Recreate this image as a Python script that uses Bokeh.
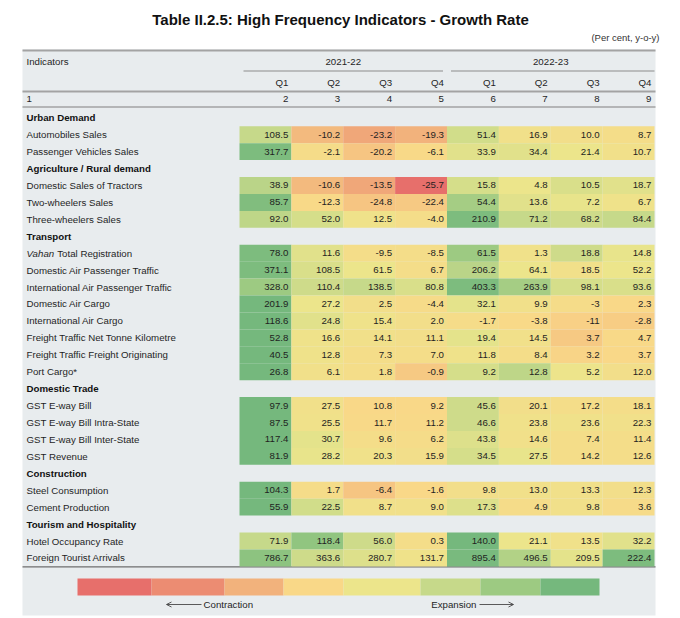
from bokeh.plotting import figure
from bokeh.models import Range1d, ColumnDataSource, Arrow, OpenHead
from bokeh.core.properties import value
from bokeh.embed import file_html
from bokeh.resources import INLINE

TITLE = "Table II.2.5: High Frequency Indicators - Growth Rate"
UNIT = "(Per cent, y-o-y)"
years = ["2021-22", "2022-23"]
quarters = ["Q1", "Q2", "Q3", "Q4", "Q1", "Q2", "Q3", "Q4"]
col_numbers = ["1", "2", "3", "4", "5", "6", "7", "8", "9"]

sections = ["Urban Demand", "Agriculture / Rural demand", "Transport",
            "Domestic Trade", "Construction", "Tourism and Hospitality"]

urban_rows = ["Automobiles Sales", "Passenger Vehicles Sales"]
urban_vals = [["108.5", "-10.2", "-23.2", "-19.3", "51.4", "16.9", "10.0", "8.7"],
              ["317.7", "-2.1", "-20.2", "-6.1", "33.9", "34.4", "21.4", "10.7"]]
urban_lvl = [[5.0, 2.2, 1.7, 2.0, 4.7, 3.6, 3.5, 3.4],
             [6.8, 3.3, 2.5, 3.1, 4.3, 4.3, 4.0, 3.6]]

agri_rows = ["Domestic Sales of Tractors", "Two-wheelers Sales", "Three-wheelers Sales"]
agri_vals = [["38.9", "-10.6", "-13.5", "-25.7", "15.8", "4.8", "10.5", "18.7"],
             ["85.7", "-12.3", "-24.8", "-22.4", "54.4", "13.6", "7.2", "6.7"],
             ["92.0", "52.0", "12.5", "-4.0", "210.9", "71.2", "68.2", "84.4"]]
agri_lvl = [[5.3, 2.2, 1.7, 0.0, 4.6, 4.0, 4.5, 4.3],
            [6.7, 3.1, 2.5, 2.6, 5.8, 4.3, 4.1, 3.8],
            [5.2, 4.6, 3.8, 3.4, 6.8, 5.0, 4.8, 5.0]]

transport_rows = ["Vahan Total Registration", "Domestic Air Passenger Traffic",
                  "International Air Passenger Traffic", "Domestic Air Cargo",
                  "International Air Cargo", "Freight Traffic Net Tonne Kilometre",
                  "Freight Traffic Freight Originating", "Port Cargo*"]
transport_vals = [["78.0", "11.6", "-9.5", "-8.5", "61.5", "1.3", "18.8", "14.8"],
                  ["371.1", "108.5", "61.5", "6.7", "206.2", "64.1", "18.5", "52.2"],
                  ["328.0", "110.4", "138.5", "80.8", "403.3", "263.9", "98.1", "93.6"],
                  ["201.9", "27.2", "2.5", "-4.4", "32.1", "9.9", "-3", "2.3"],
                  ["118.6", "24.8", "15.4", "2.0", "-1.7", "-3.8", "-11", "-2.8"],
                  ["52.8", "16.6", "14.1", "11.1", "19.4", "14.5", "3.7", "4.7"],
                  ["40.5", "12.8", "7.3", "7.0", "11.8", "8.4", "3.2", "3.7"],
                  ["26.8", "6.1", "1.8", "-0.9", "9.2", "12.8", "5.2", "12.0"]]
transport_lvl = [[6.8, 4.3, 3.4, 3.4, 6.0, 3.7, 4.8, 4.1],
                 [6.8, 4.5, 4.0, 3.4, 5.3, 4.0, 3.6, 4.0],
                 [6.0, 4.8, 5.0, 4.5, 6.8, 5.8, 4.6, 4.5],
                 [7.0, 4.0, 3.5, 3.2, 4.2, 3.6, 3.3, 3.0],
                 [7.0, 4.3, 3.8, 3.5, 3.3, 3.1, 2.8, 2.7],
                 [7.0, 3.8, 3.6, 3.5, 4.2, 3.6, 2.6, 3.1],
                 [7.0, 3.8, 3.4, 3.4, 3.8, 3.4, 2.9, 3.0],
                 [7.0, 3.6, 3.4, 2.6, 4.6, 5.2, 3.9, 3.5]]

trade_rows = ["GST E-way Bill", "GST E-way Bill Intra-State",
              "GST E-way Bill Inter-State", "GST Revenue"]
trade_vals = [["97.9", "27.5", "10.8", "9.2", "45.6", "20.1", "17.2", "18.1"],
              ["87.5", "25.5", "11.7", "11.2", "46.6", "23.8", "23.6", "22.3"],
              ["117.4", "30.7", "9.6", "6.2", "43.8", "14.6", "7.4", "11.4"],
              ["81.9", "28.2", "20.3", "15.9", "34.5", "27.5", "14.2", "12.6"]]
trade_lvl = [[7.0, 3.6, 3.0, 3.0, 4.8, 3.5, 3.4, 3.4],
             [7.0, 3.7, 3.1, 3.1, 4.8, 3.7, 3.7, 3.6],
             [7.0, 4.2, 3.4, 3.3, 4.4, 3.6, 3.4, 3.4],
             [7.0, 4.1, 3.7, 3.5, 4.6, 4.1, 3.4, 3.4]]

constr_rows = ["Steel Consumption", "Cement Production"]
constr_vals = [["104.3", "1.7", "-6.4", "-1.6", "9.8", "13.0", "13.3", "12.3"],
               ["55.9", "22.5", "8.7", "9.0", "17.3", "4.9", "9.8", "3.6"]]
constr_lvl = [[7.0, 3.3, 2.5, 3.0, 3.5, 3.6, 3.6, 3.5],
              [7.0, 4.7, 3.6, 3.6, 4.4, 3.3, 3.6, 3.2]]

tourism_rows = ["Hotel Occupancy Rate", "Foreign Tourist Arrivals"]
tourism_vals = [["71.9", "118.4", "56.0", "0.3", "140.0", "21.1", "13.5", "32.2"],
                ["786.7", "363.6", "280.7", "131.7", "895.4", "496.5", "209.5", "222.4"]]
tourism_lvl = [[5.0, 6.3, 4.8, 3.4, 7.0, 4.0, 3.7, 4.3],
               [6.4, 4.8, 4.4, 3.8, 6.9, 5.5, 4.2, 6.8]]

palette = ["#e76f6b", "#ec8c72", "#f2b27c", "#f9d888",
           "#ece58b", "#c6d98a", "#9dca82", "#75b87d"]
legend_labels = ["Contraction", "Expansion"]

groups = [
    (sections[0], urban_rows, urban_vals, urban_lvl),
    (sections[1], agri_rows, agri_vals, agri_lvl),
    (sections[2], transport_rows, transport_vals, transport_lvl),
    (sections[3], trade_rows, trade_vals, trade_lvl),
    (sections[4], constr_rows, constr_vals, constr_lvl),
    (sections[5], tourism_rows, tourism_vals, tourism_lvl),
]

# ---------- layout constants (pixels) ----------
W, H = 680, 618
FONT = value("Liberation Sans")
TXT = "#1f1f1f"
BG = "#e8ecee"
LEFT = 22
RIGHT = 655
LABEL_X = 26
CELL0 = 239
CELLW = (RIGHT - 1 - CELL0) / 8.0
ROW0 = 108.8
ROWH = 16.93
FS = "9.7px"


def hex2rgb(h):
    return tuple(int(h[i:i + 2], 16) for i in (1, 3, 5))


def level_color(lv):
    lv = max(0.0, min(7.0, lv))
    i = min(int(lv), 6)
    f = lv - i
    a, b = hex2rgb(palette[i]), hex2rgb(palette[i + 1])
    c = [round(a[k] + (b[k] - a[k]) * f) for k in range(3)]
    return "#%02x%02x%02x" % tuple(c)


p = figure(width=W, height=H, x_range=Range1d(0, W), y_range=Range1d(H, 0),
           output_backend="svg", toolbar_location=None, min_border=0,
           background_fill_color="white", border_fill_color="white")
p.axis.visible = False
p.grid.visible = False
p.outline_line_color = None

n_rows = sum(1 + len(g[1]) for g in groups)
table_bottom = ROW0 + n_rows * ROWH

# table background
p.quad(left=[LEFT], right=[RIGHT], top=[49], bottom=[615], fill_color=BG, line_color=None)

# title & unit
p.text(x=[340], y=[19], text=[TITLE], text_font=FONT, text_font_size="15px",
       text_font_style="bold", text_align="center", text_baseline="middle", text_color="#111111")
p.text(x=[RIGHT + 4], y=[37], text=[UNIT], text_font=FONT, text_font_size="9.5px",
       text_align="right", text_baseline="middle", text_color="#333333")

# header rows
p.text(x=[LABEL_X], y=[61], text=["Indicators"], text_font=FONT, text_font_size=FS,
       text_align="left", text_baseline="middle", text_color=TXT)
year_x = [CELL0 + CELLW * 2, CELL0 + CELLW * 6]
p.text(x=year_x, y=[61, 61], text=years, text_font=FONT, text_font_size=FS,
       text_align="center", text_baseline="middle", text_color=TXT)
p.segment(x0=[CELL0 + 4, CELL0 + CELLW * 4 + 4], x1=[CELL0 + CELLW * 4 - 4, RIGHT - 1],
          y0=[70.5, 70.5], y1=[70.5, 70.5], line_color="#8c8c8c", line_width=1.2)
q_x = [CELL0 + CELLW * (i + 1) - 3 for i in range(8)]
p.text(x=q_x, y=[82] * 8, text=quarters, text_font=FONT, text_font_size=FS,
       text_align="right", text_baseline="middle", text_color=TXT)
p.text(x=[LABEL_X], y=[98.5], text=[col_numbers[0]], text_font=FONT, text_font_size=FS,
       text_align="left", text_baseline="middle", text_color=TXT)
p.text(x=q_x, y=[98.5] * 8, text=col_numbers[1:], text_font=FONT, text_font_size=FS,
       text_align="right", text_baseline="middle", text_color=TXT)

# rules
p.segment(x0=[LEFT, LEFT, LEFT, LEFT], x1=[RIGHT, RIGHT, RIGHT, RIGHT],
          y0=[50, 91, 106.5, table_bottom + 0.5], y1=[50, 91, 106.5, table_bottom + 0.5],
          line_color=["#a3a3a3", "#a3a3a3", "#a3a3a3", "#6e6e6e"],
          line_width=[2.2, 2.2, 1.6, 1.4])

# body
cl, cr, ct, cb, cc = [], [], [], [], []
vx, vy, vt = [], [], []
lx, ly, lt = [], [], []
hx, hy, ht = [], [], []
k = 0
for title, rows, vals, lvls in groups:
    hx.append(LABEL_X); hy.append(ROW0 + ROWH * (k + 0.5)); ht.append(title)
    k += 1
    for name, rv, rl in zip(rows, vals, lvls):
        yc = ROW0 + ROWH * (k + 0.5)
        if not name.startswith("Vahan "):
            lx.append(LABEL_X); ly.append(yc); lt.append(name)
        for j in range(8):
            cl.append(CELL0 + CELLW * j); cr.append(CELL0 + CELLW * (j + 1))
            ct.append(ROW0 + ROWH * k); cb.append(ROW0 + ROWH * (k + 1))
            cc.append(level_color(rl[j]))
            vx.append(CELL0 + CELLW * (j + 1) - 3); vy.append(yc); vt.append(rv[j])
        k += 1

p.quad(left=cl, right=cr, top=ct, bottom=cb, fill_color=cc, line_color=None)
p.text(x=vx, y=vy, text=vt, text_font=FONT, text_font_size=FS, text_align="right",
       text_baseline="middle", text_color=TXT)
p.text(x=lx, y=ly, text=lt, text_font=FONT, text_font_size=FS, text_align="left",
       text_baseline="middle", text_color=TXT)
p.text(x=hx, y=hy, text=ht, text_font=FONT, text_font_size=FS, text_font_style="bold",
       text_align="left", text_baseline="middle", text_color="#111111")

# Vahan row (italic word)
vahan_y = ROW0 + ROWH * (sections.index("Transport") + len(urban_rows) + len(agri_rows) + 1.5)
vahan_name = transport_rows[0].split(" ", 1)
p.text(x=[LABEL_X], y=[vahan_y], text=[vahan_name[0]], text_font=FONT, text_font_size=FS,
       text_font_style="italic", text_align="left", text_baseline="middle", text_color=TXT)
p.text(x=[LABEL_X + 2.891 * 9.7 + 2.7], y=[vahan_y], text=[vahan_name[1]], text_font=FONT,
       text_font_size=FS, text_align="left", text_baseline="middle", text_color=TXT)

# colour legend
edges = [77, 151, 224, 283, 343, 420, 480, 540, 599]
p.quad(left=edges[:-1], right=edges[1:], top=[578] * 8, bottom=[595] * 8,
       fill_color=palette, line_color=None)
p.text(x=[203], y=[604], text=[legend_labels[0]], text_font=FONT, text_font_size=FS,
       text_align="left", text_baseline="middle", text_color=TXT)
p.text(x=[476], y=[604], text=[legend_labels[1]], text_font=FONT, text_font_size=FS,
       text_align="right", text_baseline="middle", text_color=TXT)
p.add_layout(Arrow(x_start=201, y_start=604, x_end=166, y_end=604, line_width=0.8,
                   line_color="#333333",
                   end=OpenHead(size=5, line_width=0.8, line_color="#333333")))
p.add_layout(Arrow(x_start=479, y_start=604, x_end=513, y_end=604, line_width=0.8,
                   line_color="#333333",
                   end=OpenHead(size=5, line_width=0.8, line_color="#333333")))

open("out.html", "w").write(file_html(p, INLINE))
